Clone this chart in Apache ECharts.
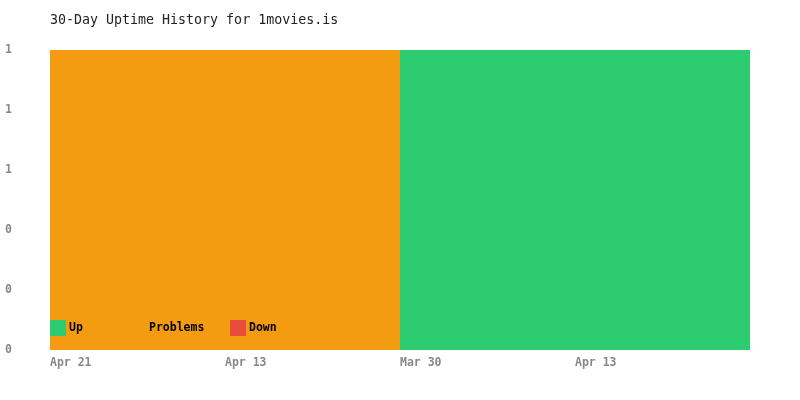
<!DOCTYPE html>
<html><head><meta charset="utf-8">
<script src="https://cdn.jsdelivr.net/npm/echarts@6/dist/echarts.min.js"></script>
<style>html,body{margin:0;padding:0;background:#fff}#c{width:800px;height:400px}</style>
</head><body><div id="c"></div>
<script>
var categories = ['Apr 21', 'Apr 13', 'Mar 30', 'Apr 13'];
var upValues = [0, 0, 1, 1];
var problemValues = [1, 1, 0, 0];
var downValues = [0, 0, 0, 0];
var seriesNames = ['Up', 'Problems', 'Down'];
var colors = ['#2ECC71', '#F39C12', '#E74C3C'];
var font = 'DejaVu Sans Mono';

var chart = echarts.init(document.getElementById('c'), null, {renderer: 'canvas'});
function legendAt(i, left) {
  return {
    data: [seriesNames[i]], left: left, top: 320, icon: 'rect', itemWidth: 16, itemHeight: 16,
    itemGap: 0, padding: 0,
    textStyle: {fontFamily: font, fontWeight: 'bold', fontSize: 11.5, color: '#000', padding: [0, 0, 0, -2]},
    selectedMode: false
  };
}
var values = [upValues, problemValues, downValues];
chart.setOption({
  animation: false,
  title: {text: '30-Day Uptime History for 1movies.is', left: 45, top: 9,
    textStyle: {fontFamily: font, fontWeight: 'normal', fontSize: 13.3, color: '#222'}},
  legend: [legendAt(0, 50), legendAt(1, 130), legendAt(2, 230)],
  grid: {left: 50, right: 50, top: 50, bottom: 50},
  xAxis: [
    {type: 'category', data: categories, boundaryGap: true, show: false},
    {type: 'category', data: categories.concat(['']), boundaryGap: false, position: 'bottom',
      axisLine: {show: false}, axisTick: {show: false}, splitLine: {show: false},
      axisLabel: {interval: 0, align: 'left', margin: 7, color: '#888', fontFamily: font, fontWeight: 'bold', fontSize: 11.5}}
  ],
  yAxis: {type: 'value', min: 0, max: 1, interval: 0.2,
    axisLine: {show: false}, axisTick: {show: false}, splitLine: {show: false},
    axisLabel: {align: 'left', margin: 45, color: '#888', fontFamily: font, fontWeight: 'bold', fontSize: 11.5,
      padding: [2, 0, 0, 0],
      formatter: function (v) { return v.toFixed(0); }}},
  series: seriesNames.map(function (n, i) {
    return {name: n, type: 'bar', stack: 'all', xAxisIndex: 0, data: values[i],
      barWidth: '100%', barCategoryGap: '0%', itemStyle: {color: colors[i]}};
  })
});
</script></body></html>
